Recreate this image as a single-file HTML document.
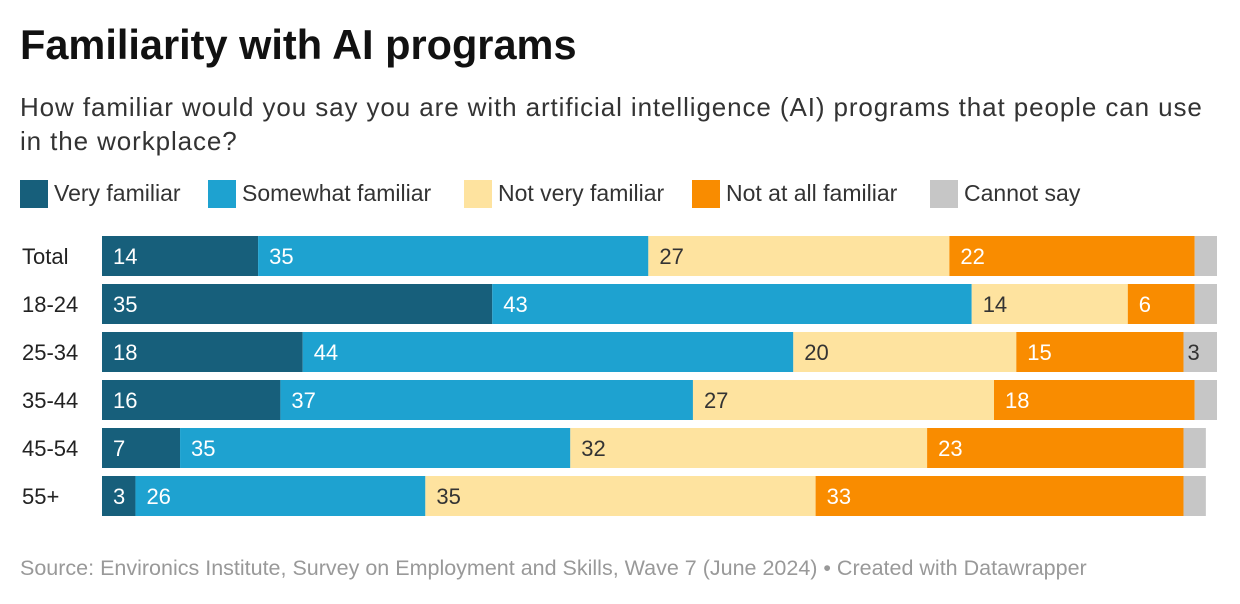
<!DOCTYPE html>
<html><head><meta charset="utf-8"><style>
body{margin:0;background:#fff;font-family:"Liberation Sans",Arial,sans-serif;width:1240px;height:604px;overflow:hidden;position:relative}
.t{position:absolute;white-space:nowrap}
</style></head><body>
<div class="t" style="left:20px;top:21px;font-size:41.5px;font-weight:bold;color:#111">Familiarity with AI programs</div>
<div class="t" style="left:20px;top:90px;font-size:26px;letter-spacing:0.9px;line-height:34px;color:#333;white-space:normal;width:1210px">How familiar would you say you are with artificial intelligence (AI) programs that people can use in the workplace?</div>
<div id="legend"></div>
<svg id="chart" width="1240" height="604" style="position:absolute;left:0;top:0"></svg>
<div class="t" style="left:20px;top:556px;font-size:21.5px;color:#999">Source: Environics Institute, Survey on Employment and Skills, Wave 7 (June 2024) • Created with Datawrapper</div>
<script>
const categories=["Total","18-24","25-34","35-44","45-54","55+"];
const seriesNames=["Very familiar","Somewhat familiar","Not very familiar","Not at all familiar","Cannot say"];
const veryFamiliar=[14,35,18,16,7,3];
const somewhatFamiliar=[35,43,44,37,35,26];
const notVeryFamiliar=[27,14,20,27,32,35];
const notAtAllFamiliar=[22,6,15,18,23,33];
const cannotSay=[2,2,3,2,2,2];
const series=[veryFamiliar,somewhatFamiliar,notVeryFamiliar,notAtAllFamiliar,cannotSay];
const colors=["#175f7b","#1ea2d0","#fee39f","#f98c00","#c6c6c6"];
const textColors=["#fff","#fff","#333","#fff","#333"];
const x0=102,unit=11.15,y0=236,rowH=40,pitch=48;
const xs=v=>v*unit;
const ys=i=>y0+i*pitch;
const ns="http://www.w3.org/2000/svg";
const svg=document.getElementById('chart');
categories.forEach((c,i)=>{
  const lab=document.createElementNS(ns,'text');
  
  
  lab.setAttribute('x',22);lab.setAttribute('y',ys(i)+rowH/2+8);
  lab.setAttribute('font-size','22');lab.setAttribute('fill','#222');
  lab.textContent=c;svg.appendChild(lab);
  let acc=0;
  series.forEach((s,k)=>{
    const v=s[i];
    const r=document.createElementNS(ns,'rect');
    
    
    r.setAttribute('x',x0+xs(acc));r.setAttribute('y',ys(i));
    r.setAttribute('width',xs(v));r.setAttribute('height',rowH);
    r.setAttribute('fill',colors[k]);svg.appendChild(r);
    if(v>=3){
      const t=document.createElementNS(ns,'text');
      
      
      t.setAttribute('x',x0+xs(acc)+(k==4?4:11));t.setAttribute('y',ys(i)+rowH/2+8);
      t.setAttribute('font-size','22');t.setAttribute('fill',textColors[k]);
      t.textContent=v;svg.appendChild(t);
    }
    acc+=v;
  });
});
const legX=[20,208,464,692,930];
const leg=document.getElementById('legend');
seriesNames.forEach((n,k)=>{
  const sq=document.createElement('div');
  
  
  sq.style.cssText=`position:absolute;left:${legX[k]}px;top:180px;width:28px;height:28px;background:${colors[k]}`;
  leg.appendChild(sq);
  const t=document.createElement('div');
  
  
  t.className='t';
  t.style.cssText=`left:${legX[k]+34}px;top:180px;font-size:23px;color:#333`;
  t.textContent=n;leg.appendChild(t);
});
</script>
</body></html>
